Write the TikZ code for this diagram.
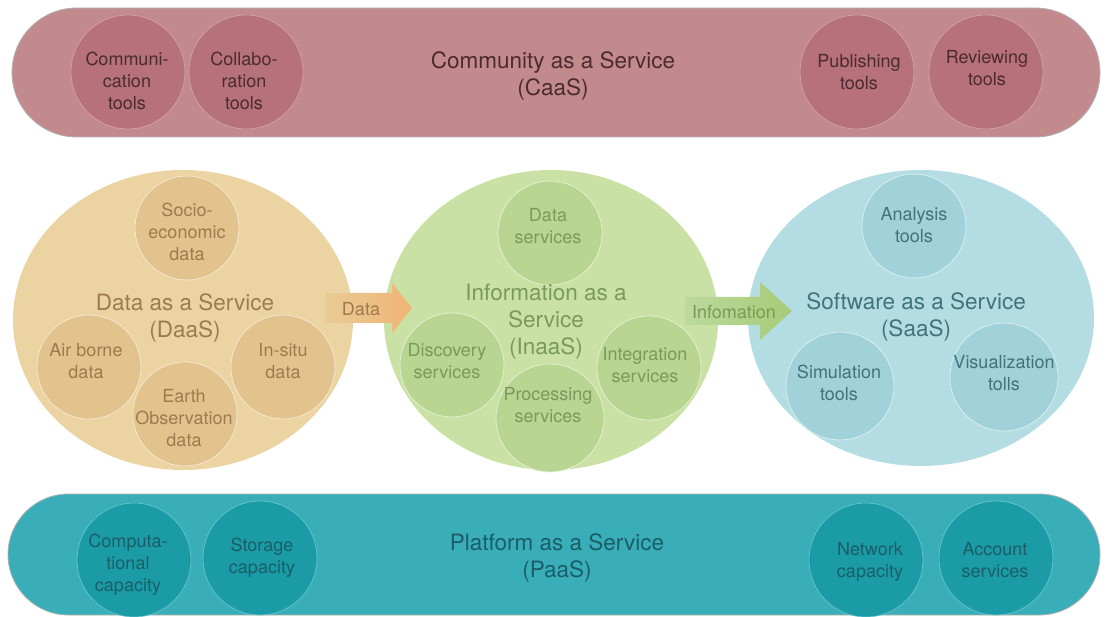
\documentclass[tikz,border=0pt]{standalone}
\usepackage{fontspec}
\setmainfont{TeX Gyre Heros}
\usetikzlibrary{shapes.geometric,shapes.misc}
\definecolor{caasbg}{HTML}{C38A8E}
\definecolor{caasin}{HTML}{B6717A}
\definecolor{caasln}{HTML}{D6A6A9}
\definecolor{caastx}{HTML}{4B2B2E}
\definecolor{daasbg}{HTML}{ECD4A2}
\definecolor{daasin}{HTML}{E3C38D}
\definecolor{daastx}{HTML}{9C7C4E}
\definecolor{inaasbg}{HTML}{C9E1A4}
\definecolor{inaasin}{HTML}{B8D691}
\definecolor{inaastx}{HTML}{7A9A5C}
\definecolor{saasbg}{HTML}{B4DDE3}
\definecolor{saasin}{HTML}{A2D2D9}
\definecolor{saastx}{HTML}{41737A}
\definecolor{paasbg}{HTML}{39AEB9}
\definecolor{paasin}{HTML}{1B9BA6}
\definecolor{paasln}{HTML}{6CC8D0}
\definecolor{paastx}{HTML}{1A5E66}
\definecolor{darrowA}{HTML}{E9CB96}
\definecolor{darrowB}{HTML}{F0B474}
\definecolor{iarrowA}{HTML}{BBDA9C}
\definecolor{iarrowB}{HTML}{A6CB78}
\begin{document}
\begin{tikzpicture}[x=1pt,y=-1pt,
  band/.style={rounded rectangle, inner sep=0pt, draw=black!30, line width=0.8pt},
  bigell/.style={ellipse, inner sep=0pt, draw=none},
  circ/.style={circle, inner sep=0pt, minimum size=114pt},
  small/.style={circle, inner sep=0pt, minimum size=104pt, draw=white!70!#1, line width=0.6pt, fill=#1},
  intxt/.style={align=center, text=#1, font=\fontsize{18}{22}\selectfont, inner sep=0pt},
  ttl/.style={align=center, text=#1, font=\fontsize{22.5}{27}\selectfont, inner sep=0pt}
]
\useasboundingbox (0,0) rectangle (1108,617);
% ---------- CaaS band ----------
\node[band, fill=caasbg, minimum width=1088pt, minimum height=129pt] (caas) at (556,72.5) {};
\node[ttl=caastx] (caast) at (553,76) {Community as a Service\\(CaaS)};
\node[circ, fill=caasin, draw=caasln, line width=0.6pt] (comm) at (128,72) {};
\node[circ, fill=caasin, draw=caasln, line width=0.6pt] (coll) at (246,72) {};
\node[circ, fill=caasin, draw=caasln, line width=0.6pt] (publ) at (857,72) {};
\node[circ, fill=caasin, draw=caasln, line width=0.6pt] (revw) at (986,72) {};
\node[intxt=caastx] (commt) at (127,81) {Communi-\\cation\\tools};
\node[intxt=caastx] (collt) at (244,81) {Collabo-\\ration\\tools};
\node[intxt=caastx] (publt) at (859,72) {Publishing\\tools};
\node[intxt=caastx] (revwt) at (987,68) {Reviewing\\tools};
% ---------- big ellipses ----------
\node[bigell, fill=daasbg, minimum width=340pt, minimum height=300pt] (daas) at (183,320) {};
\node[bigell, fill=inaasbg, minimum width=334pt, minimum height=300pt] (inaas) at (551,320) {};
\node[bigell, fill=saasbg, minimum width=346pt, minimum height=296pt] (saas) at (921,318) {};
% DaaS
\node[small=daasin] (socio) at (187,228) {};
\node[small=daasin] (airb) at (89,367) {};
\node[small=daasin] (earth) at (185,414) {};
\node[small=daasin] (insitu) at (283,367) {};
\node[ttl=daastx] (daast) at (185,318) {Data as a Service\\(DaaS)};
\node[intxt=daastx] (sociot) at (187,232) {Socio-\\economic\\data};
\node[intxt=daastx] (airbt) at (86,361) {Air borne\\data};
\node[intxt=daastx] (eartht) at (184,418) {Earth\\Observation\\data};
\node[intxt=daastx] (insitut) at (283,361) {In-situ\\data};
% InaaS
\node[small=inaasin] (dserv) at (550,233) {};
\node[small=inaasin] (disc) at (452,365) {};
\node[small=inaasin, minimum size=108pt] (proc) at (550,418) {};
\node[small=inaasin] (integ) at (649,368) {};
\node[ttl=inaastx] (inaast) at (546,322) {Information as a\\Service\\(InaaS)};
\node[intxt=inaastx] (dservt) at (548,226) {Data\\services};
\node[intxt=inaastx] (disct) at (447,361) {Discovery\\services};
\node[intxt=inaastx] (proct) at (548,405) {Processing\\services};
\node[intxt=inaastx] (integt) at (645,365) {Integration\\services};
% SaaS
\node[small=saasin] (anal) at (914,226) {};
\node[small=saasin, minimum size=108pt] (simu) at (840,386) {};
\node[small=saasin, minimum size=108pt] (visu) at (1004,377) {};
\node[ttl=saastx] (saast) at (916,317) {Software as a Service\\(SaaS)};
\node[intxt=saastx] (analt) at (914,225) {Analysis\\tools};
\node[intxt=saastx] (simut) at (839,383) {Simulation\\tools};
\node[intxt=saastx] (visut) at (1004,373) {Visualization\\tolls};
% ---------- block arrows ----------
\path[left color=darrowA, right color=darrowB]
  (325,293) -- (392,293) -- (392,283) -- (412,308) -- (392,333) -- (392,323) -- (325,323) -- cycle;
\node[intxt=daastx] (datalbl) at (361,309) {Data};
\path[left color=iarrowA, right color=iarrowB]
  (685,297) -- (760,297) -- (760,282) -- (792,311) -- (760,340) -- (760,325) -- (685,325) -- cycle;
\node[intxt=inaastx] (infolbl) at (734,312) {Infomation};
% ---------- PaaS band ----------
\node[band, fill=paasbg, minimum width=1092pt, minimum height=121pt] (paas) at (554,554.5) {};
\node[ttl=paastx] (paast) at (557,558) {Platform as a Service\\(PaaS)};
\node[circ, fill=paasin, draw=paasln, line width=0.6pt] (comp) at (134,560) {};
\node[circ, fill=paasin, draw=paasln, line width=0.6pt] (stor) at (260,558) {};
\node[circ, fill=paasin, draw=paasln, line width=0.6pt] (netw) at (866,560) {};
\node[circ, fill=paasin, draw=paasln, line width=0.6pt] (acct) at (996,558) {};
\node[intxt=paastx] (compt) at (128,565) {Computa-\\tional\\capacity};
\node[intxt=paastx] (stort) at (262,558) {Storage\\capacity};
\node[intxt=paastx] (netwt) at (870,562) {Network\\capacity};
\node[intxt=paastx] (acctt) at (995,560) {Account\\services};
\end{tikzpicture}
\end{document}
